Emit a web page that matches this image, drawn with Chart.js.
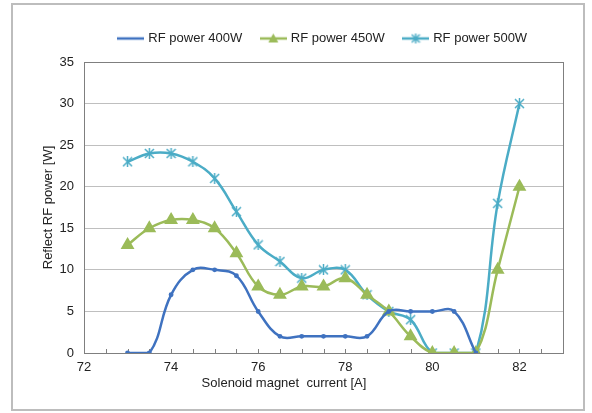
<!DOCTYPE html>
<html>
<head>
<meta charset="utf-8">
<script src="https://cdn.jsdelivr.net/npm/chart.js@4/dist/chart.umd.min.js"></script>
<style>
  html, body { margin: 0; padding: 0; background: #fff; }
</style>
</head>
<body>
<canvas id="rfChart" width="592" height="413"></canvas>
<script>
// Reflected RF power vs solenoid magnet current
const current = [73, 73.5, 74, 74.5, 75, 75.5, 76, 76.5, 77, 77.5, 78, 78.5, 79, 79.5, 80, 80.5, 81, 81.5, 82];
const power400 = [0, 0, 7, 10, 10, 9.3, 5, 2, 2, 2, 2, 2, 5, 5, 5, 5, 0, null, null];
const power450 = [13, 15, 16, 16, 15, 12, 8, 7, 8, 8, 9, 7, 5, 2, 0, 0, 0, 10, 20];
const power500 = [23, 24, 24, 23, 21, 17, 13, 11, 9, 10, 10, 7, 5, 4, 0, 0, 0, 18, 30];
const seriesNames = ["RF power 400W", "RF power 450W", "RF power 500W"];
const xLabels = [72, 74, 76, 78, 80, 82];

const colors = ["#3F72C0", "#9BBB59", "#4BACC6"];
const FONT = "'Liberation Sans', Arial, sans-serif";

// Excel style "*" marker (X plus vertical stroke)
function asteriskMarker(color, size) {
  const c = document.createElement("canvas");
  c.width = size;
  c.height = size;
  const g = c.getContext("2d");
  g.strokeStyle = color;
  g.lineWidth = 1.5;
  const m = 1;
  g.beginPath();
  g.moveTo(m, m); g.lineTo(size - m, size - m);
  g.moveTo(size - m, m); g.lineTo(m, size - m);
  g.moveTo(size / 2, 0); g.lineTo(size / 2, size);
  g.stroke();
  return c;
}

// legend swatch: short line with the series marker
function legendIcon(color, marker) {
  const w = 27, h = 14;
  const c = document.createElement("canvas");
  c.width = w;
  c.height = h;
  const g = c.getContext("2d");
  g.strokeStyle = color;
  g.lineWidth = 2.5;
  g.beginPath();
  g.moveTo(0, h / 2);
  g.lineTo(w, h / 2);
  g.stroke();
  if (marker === "triangle") {
    g.fillStyle = color;
    g.beginPath();
    g.moveTo(w / 2, h / 2 - 5);
    g.lineTo(w / 2 + 5, h / 2 + 4);
    g.lineTo(w / 2 - 5, h / 2 + 4);
    g.closePath();
    g.fill();
  } else if (marker === "asterisk") {
    g.drawImage(asteriskMarker(color, 10), w / 2 - 5, h / 2 - 5);
  }
  return c;
}

const legendIcons = [
  legendIcon(colors[0], "none"),
  legendIcon(colors[1], "triangle"),
  legendIcon(colors[2], "asterisk"),
];

function toPoints(values) {
  return current.map((x, i) => ({ x: x, y: values[i] }));
}

// outer frame, plot frame and inward minor ticks
const framePlugin = {
  id: "frame",
  beforeInit(chart) {
    const fit = chart.legend.fit;
    chart.legend.fit = function () {
      fit.call(this);
      this.height = 50;
    };
  },
  beforeDraw(chart) {
    const ctx = chart.ctx;
    ctx.save();
    ctx.strokeStyle = "#BDBDBD";
    ctx.lineWidth = 2;
    ctx.strokeRect(12, 4, 572, 406);
    ctx.restore();
  },
  beforeDatasetsDraw(chart) {
    const ctx = chart.ctx;
    const a = chart.chartArea;
    const xs = chart.scales.x;
    ctx.save();
    ctx.strokeStyle = "#7F7F7F";
    ctx.lineWidth = 1;
    ctx.strokeRect(a.left + 0.5, a.top + 0.5, a.right - a.left, a.bottom - a.top);
    ctx.beginPath();
    xs.ticks.forEach((t) => {
      const px = Math.round(xs.getPixelForValue(t.value)) + 0.5;
      ctx.moveTo(px, a.bottom);
      ctx.lineTo(px, a.bottom - 4);
    });
    ctx.stroke();
    ctx.restore();
  },
  afterDraw(chart) {
    const ctx = chart.ctx;
    const a = chart.chartArea;
    ctx.save();
    ctx.fillStyle = "#222";
    ctx.font = "13px " + FONT;
    ctx.textAlign = "center";
    ctx.textBaseline = "middle";
    ctx.fillText("Solenoid magnet  current [A]", a.left + 200, 383);
    ctx.restore();
  },
};

const ctx = document.getElementById("rfChart").getContext("2d");

new Chart(ctx, {
  type: "line",
  data: {
    datasets: [
      {
        label: seriesNames[0],
        data: toPoints(power400),
        borderColor: colors[0],
        backgroundColor: colors[0],
        borderWidth: 2.5,
        pointRadius: 1.2,
        pointStyle: "circle",
        tension: 0.4,
      },
      {
        label: seriesNames[1],
        data: toPoints(power450),
        borderColor: colors[1],
        backgroundColor: colors[1],
        borderWidth: 2.5,
        pointRadius: 5.5,
        pointStyle: "triangle",
        tension: 0.4,
      },
      {
        label: seriesNames[2],
        data: toPoints(power500),
        borderColor: colors[2],
        backgroundColor: colors[2],
        borderWidth: 2.5,
        pointStyle: asteriskMarker(colors[2], 11),
        tension: 0.4,
      },
    ],
  },
  options: {
    responsive: false,
    animation: false,
    layout: {
      padding: { left: 12, right: 29, top: 12, bottom: 0 },
    },
    plugins: {
      tooltip: { enabled: false },
      legend: {
        position: "top",
        fullSize: false,
        labels: {
          usePointStyle: true,
          pointStyleWidth: 22,
          padding: 20,
          color: "#222",
          font: { family: FONT, size: 13 },
          generateLabels: function (chart) {
            return chart.data.datasets.map((ds, i) => ({
              text: ds.label,
              pointStyle: legendIcons[i],
              fontColor: "#222",
              strokeStyle: ds.borderColor,
              fillStyle: ds.backgroundColor,
              lineWidth: 0,
              hidden: false,
              datasetIndex: i,
            }));
          },
        },
      },
    },
    scales: {
      x: {
        type: "linear",
        min: 72,
        max: 83,
        afterFit: (scale) => {
          scale.height = 60;
        },
        border: { display: false },
        grid: { display: false, drawTicks: false },
        ticks: {
          stepSize: 0.5,
          autoSkip: false,
          maxRotation: 0,
          padding: 7,
          color: "#222",
          font: { family: FONT, size: 13 },
          callback: (v) => (xLabels.includes(v) ? String(v) : ""),
        },
      },
      y: {
        min: 0,
        max: 35,
        afterFit: (scale) => {
          scale.width = 72;
        },
        border: { display: false },
        grid: { color: "#BFBFBF", lineWidth: 1, drawTicks: false },
        ticks: {
          stepSize: 5,
          padding: 10,
          color: "#222",
          font: { family: FONT, size: 13 },
        },
        title: {
          display: true,
          text: "Reflect RF power [W]",
          color: "#222",
          font: { family: FONT, size: 13 },
          padding: { top: 29, bottom: 0 },
        },
      },
    },
  },
  plugins: [framePlugin],
});
</script>
</body>
</html>
